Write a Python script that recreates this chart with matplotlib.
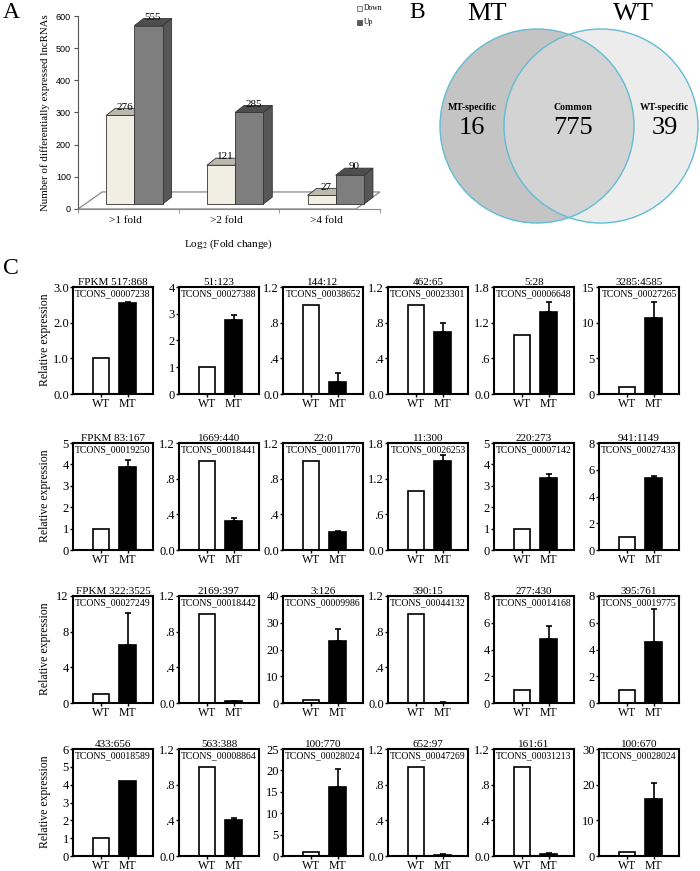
import numpy as np
import matplotlib.pyplot as plt
from matplotlib.patches import Polygon, Circle, Rectangle

plt.rcParams['font.family'] = ['Liberation Serif', 'DejaVu Serif']
plt.rcParams['mathtext.fontset'] = 'stix'

# ---- panel A data
folds = [">1 fold", ">2 fold", ">4 fold"]
down = [276, 121, 27]
up = [555, 285, 90]

# ---- panel B data
venn_labels = ["MT-specific", "Common", "WT-specific"]
venn_counts = [16, 775, 39]

# ---- panel C data (4 rows x 6 columns)
titles = ["FPKM 517:868", "51:123", "144:12", "462:65", "5:28", "3285:4585",
          "FPKM 83:167", "1669:440", "22:0", "11:300", "220:273", "941:1149",
          "FPKM 322:3525", "2169:397", "3:126", "390:15", "277:430", "395:761",
          "433:656", "563:388", "100:770", "652:97", "161:61", "100:670"]
tcons = ["TCONS_00007238", "TCONS_00027388", "TCONS_00038652", "TCONS_00023301", "TCONS_00006648", "TCONS_00027265",
         "TCONS_00019250", "TCONS_00018441", "TCONS_00011770", "TCONS_00026253", "TCONS_00007142", "TCONS_00027433",
         "TCONS_00027249", "TCONS_00018442", "TCONS_00009986", "TCONS_00044132", "TCONS_00014168", "TCONS_00019775",
         "TCONS_00018589", "TCONS_00008864", "TCONS_00028024", "TCONS_00047269", "TCONS_00031213", "TCONS_00028024"]
wt_vals = [1.0] * 24
mt_vals = [2.55, 2.75, 0.13, 0.69, 1.38, 10.6,
           3.88, 0.33, 0.20, 1.50, 3.35, 5.40,
           6.50, 0.02, 23.2, 0.005, 4.80, 4.55,
           4.20, 0.40, 16.2, 0.015, 0.02, 16.1]
mt_err = [0.03, 0.20, 0.10, 0.11, 0.17, 2.3,
          0.33, 0.03, 0.01, 0.10, 0.22, 0.10,
          3.60, 0.005, 4.3, 0.005, 0.95, 2.5,
          0.0, 0.03, 4.1, 0.005, 0.01, 4.3]
ymax = [3, 4, 1.2, 1.2, 1.8, 15,
        5, 1.2, 1.2, 1.8, 5, 8,
        12, 1.2, 40, 1.2, 8, 8,
        6, 1.2, 25, 1.2, 1.2, 30]
ystep = [1, 1, 0.4, 0.4, 0.6, 5,
         1, 0.4, 0.4, 0.6, 1, 2,
         4, 0.4, 10, 0.4, 2, 2,
         1, 0.4, 5, 0.4, 0.4, 10]

W, H = 700, 871
fig = plt.figure(figsize=(7, 8.71), dpi=100)


def px_axes(left, top, w, h):
    return fig.add_axes([left / W, 1 - (top + h) / H, w / W, h / H])


def tick_label(v, top):
    if v == 0 and top < 4:
        return "0.0"
    if top < 2:
        return ("%.1f" % v).lstrip("0")
    if top == 3:
        return "%.1f" % v
    return "%d" % v


# ---------------- panel A: pseudo 3D bars
axA = px_axes(78, 16, 302, 193)
axA.set_xlim(0, 3)
axA.set_ylim(0, 600)
for s in ["top", "right"]:
    axA.spines[s].set_visible(False)
axA.spines["left"].set_color("#555555")
axA.spines["bottom"].set_color("#888888")
axA.set_yticks(range(0, 601, 100))
axA.set_yticklabels([str(v) for v in range(0, 601, 100)], family="Liberation Sans", fontsize=6.5)
axA.tick_params(axis="y", length=3, width=0.8, color="#555555", pad=2)
axA.set_xticks([0.47, 1.47, 2.47])
axA.set_xticklabels(folds, fontsize=8)
axA.tick_params(axis="x", length=0, pad=5)
axA.set_xticks([0, 1, 2, 3], minor=True)
axA.tick_params(axis="x", which="minor", length=3, color="#888888")
axA.set_ylabel("Number of differentially expressed lncRNAs", fontsize=7.8, labelpad=4)

base, dx, dy = 15, 0.09, 22
axA.add_patch(Polygon([(0, 0), (2.76, 0), (3.0, 53), (0.24, 53)], closed=True,
                      facecolor="white", edgecolor="#8a8a8a", lw=0.9, zorder=1, clip_on=False))


def bar3d(x0, x1, v, front, top, side):
    y1 = base + v
    axA.add_patch(Polygon([(x1, base), (x1 + dx, base + dy), (x1 + dx, y1 + dy), (x1, y1)],
                          facecolor=side, edgecolor="#333333", lw=0.6, zorder=2, clip_on=False))
    axA.add_patch(Polygon([(x0, y1), (x1, y1), (x1 + dx, y1 + dy), (x0 + dx, y1 + dy)],
                          facecolor=top, edgecolor="#333333", lw=0.6, zorder=2, clip_on=False))
    axA.add_patch(Rectangle((x0, base), x1 - x0, v, facecolor=front,
                            edgecolor="#333333", lw=0.6, zorder=3, clip_on=False))
    axA.text((x0 + x1) / 2 + dx / 2, y1 + dy * 0.55, str(v), ha="center", va="bottom",
             fontsize=8, zorder=5, clip_on=False)


for i in range(len(folds)):
    bar3d(i + 0.28, i + 0.56, down[i], "#F1EFE3", "#BBB9AE", "#A9A79C")
    bar3d(i + 0.56, i + 0.84, up[i], "#7E7E7E", "#4E4E4E", "#575757")

# ---------------- overlay for letters, legend, venn
ov = fig.add_axes([0, 0, 1, 1])
ov.set_xlim(0, W)
ov.set_ylim(H, 0)
ov.axis("off")

ov.text(3, 13, "A", fontsize=17, va="center", ha="left")
ov.text(409, 13, "B", fontsize=17, va="center", ha="left")
ov.text(3, 268, "C", fontsize=17, va="center", ha="left")

ov.add_patch(Rectangle((357, 6), 5, 5, facecolor="#F1EFE3", edgecolor="#555555", lw=0.5))
ov.add_patch(Rectangle((357, 20), 5, 5, facecolor="#5a5a5a", edgecolor="#444444", lw=0.5))
ov.text(364, 8.5, "Down", fontsize=5.5, va="center")
ov.text(364, 22.5, "Up", fontsize=5.5, va="center")
ov.text(228, 244, "Log$_2$ (Fold change)", fontsize=8, ha="center", va="center")

# venn
cL = Circle((537, 126), 97, facecolor="#C4C4C4", edgecolor="none")
cR = Circle((601, 126), 97, facecolor="#ECECEC", edgecolor="none")
ov.add_patch(cL)
ov.add_patch(cR)
cI = Circle((601, 126), 97, facecolor="#D3D3D3", edgecolor="none")
ov.add_patch(cI)
cI.set_clip_path(cL)
ov.add_patch(Circle((537, 126), 97, facecolor="none", edgecolor="#62BCD3", lw=1.0))
ov.add_patch(Circle((601, 126), 97, facecolor="none", edgecolor="#62BCD3", lw=1.0))
ov.text(487, 14, "MT", fontsize=19, ha="center", va="center")
ov.text(633, 14, "WT", fontsize=19, ha="center", va="center")
vx = [472, 573, 665]
for x, lab, n in zip(vx, venn_labels, venn_counts):
    ov.text(x, 107, lab, fontsize=7, fontweight="bold", ha="center", va="center")
    ov.text(x, 128, str(n), fontsize=19, ha="center", va="center")

# ---------------- panel C small bar charts
col_left = [73, 179, 283, 388, 494, 599]
row_top = [287, 443, 596, 749]
for k in range(24):
    r, c = divmod(k, 6)
    ax = px_axes(col_left[c], row_top[r], 80, 107)
    ax.bar([0, 1], [wt_vals[k], mt_vals[k]], width=0.62, color=["white", "black"],
           edgecolor="black", linewidth=1.2, zorder=2)
    if mt_err[k] > 0:
        ax.errorbar(1, mt_vals[k], yerr=[[0], [mt_err[k]]], color="black", lw=1.2,
                    capsize=2, capthick=1.2, zorder=3)
    ax.set_xlim(-1.06, 1.96)
    ax.set_ylim(0, ymax[k])
    ticks = np.arange(0, ymax[k] + ystep[k] / 2, ystep[k])
    ax.set_yticks(ticks)
    ax.set_yticklabels([tick_label(round(t, 2), ymax[k]) for t in ticks])
    ax.set_xticks([0, 1])
    ax.set_xticklabels(["WT", "MT"])
    ax.tick_params(direction="out", length=2, width=1, pad=1)
    ax.tick_params(axis="y", labelsize=9)
    ax.tick_params(axis="x", labelsize=8.5)
    for s in ax.spines.values():
        s.set_linewidth(1.5)
    ax.set_title(titles[k], fontsize=8, pad=1.5)
    ax.text(0.5, 0.975, tcons[k], transform=ax.transAxes, ha="center", va="top",
            fontsize=7, clip_on=True)
    if c == 0:
        fig.text(45 / W, 1 - (row_top[r] + 53) / H, "Relative expression",
                 rotation=90, ha="center", va="center", fontsize=8.5)

fig.savefig("out.png", dpi=100)
